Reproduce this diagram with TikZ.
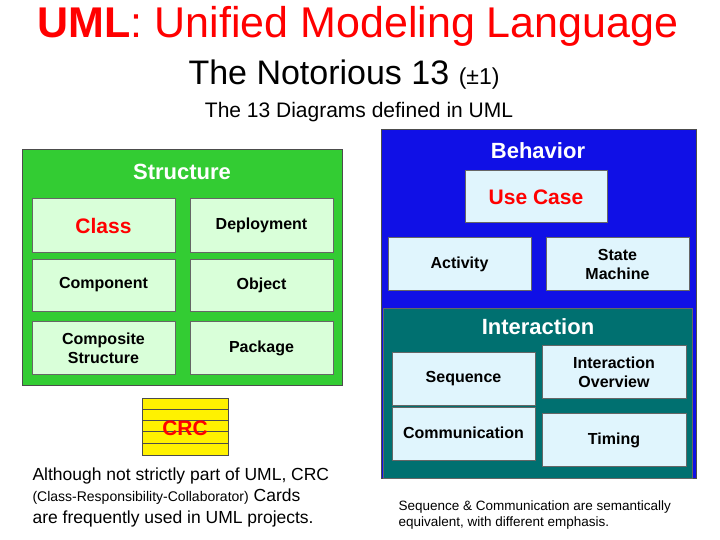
\documentclass[tikz,border=0pt]{standalone}
\usepackage{fontspec}
\setmainfont{Liberation Sans}
\begin{document}
\begin{tikzpicture}[x=1pt,y=-1pt,
  lg/.style={draw=black!60,fill=green!15!white,line width=0.8pt},
  lb/.style={draw=black!60,fill=cyan!12!white,line width=0.8pt},
  bt/.style={font=\fontsize{16}{19}\selectfont\bfseries,align=center},
  hd/.style={text=white,font=\fontsize{22}{26}\selectfont\bfseries}]
\useasboundingbox (0,0) rectangle (720,540);
\node (t1) at (358,26) {\color{red}\fontsize{43}{48}\selectfont\textbf{UML}: Unified Modeling Language};
\node (t2) at (344,75) {\fontsize{34}{38}\selectfont The Notorious 13 {\fontsize{23}{26}\selectfont(±1)}};
\node (t3) at (359,112) {\fontsize{21}{24}\selectfont The 13 Diagrams defined in UML};
% Structure
\path[draw=black!70,fill={rgb,255:red,51;green,204;blue,51},line width=1pt] (22,150) rectangle (342,385);
\node[hd] (st) at (182,172) {Structure};
\draw[lg] (32,198) rectangle (175,252); \node[bt,text=red,font=\fontsize{21}{24}\selectfont\bfseries] (cl) at (103.5,226) {Class};
\draw[lg] (190,198) rectangle (333,252); \node[bt] (dep) at (261.5,225) {Deployment};
\draw[lg] (32,259) rectangle (175,311); \node[bt] (com) at (103.5,285) {Component};
\draw[lg] (190,259) rectangle (333,311); \node[bt] (obj) at (261.5,285) {Object};
\draw[lg] (32,321) rectangle (175,374); \node[bt] (cs) at (103.5,348) {Composite\\Structure};
\draw[lg] (190,321) rectangle (333,374); \node[bt] (pk) at (261.5,348) {Package};
% Behavior
\path[draw=black!70,fill={rgb,255:red,16;green,16;blue,230},line width=1pt] (381,130) rectangle (696,478);
\node[hd] (bh) at (538,151) {Behavior};
\draw[lb] (465,170) rectangle (607,222); \node[bt,text=red,font=\fontsize{21}{24}\selectfont\bfseries] (uc) at (536,197) {Use Case};
\draw[lb] (388,237) rectangle (531,290); \node[bt] (act) at (459.5,264) {Activity};
\draw[lb] (546,237) rectangle (689,290); \node[bt] (sm) at (617.5,264) {State\\Machine};
\path[draw=black!60,fill={rgb,255:red,0;green,112;blue,112}] (383,308) rectangle (692,478);
\node[hd] (in) at (538,327) {Interaction};
\draw[lb] (392,352) rectangle (535,405); \node[bt] (seq) at (463.5,379) {Sequence};
\draw[lb] (542,345) rectangle (686,398); \node[bt] (io) at (614,372) {Interaction\\Overview};
\draw[lb] (392,407) rectangle (535,460); \node[bt] (cm) at (463.5,433) {Communication};
\draw[lb] (542,413) rectangle (686,466); \node[bt] (tm) at (614,440) {Timing};
% CRC
\draw[draw=black!70,fill=yellow] (142,398) rectangle (228,455);
\foreach \yy in {409,420,431,443} \draw[black!70] (142,\yy) -- (228,\yy);
\node[text=red,font=\fontsize{21}{24}\selectfont\bfseries] (crc) at (185,428) {CRC};
\node[anchor=west,align=left,font=\fontsize{17.5}{21.5}\selectfont] (note1) at (29,497) {Although not strictly part of UML, CRC\\{\fontsize{14}{15}\selectfont(Class-Responsibility-Collaborator)} Cards\\are frequently used in UML projects.};
\node[anchor=west,align=left,font=\fontsize{13.5}{16}\selectfont] (note2) at (395,515) {Sequence \& Communication are semantically\\equivalent, with different emphasis.};
\end{tikzpicture}
\end{document}
